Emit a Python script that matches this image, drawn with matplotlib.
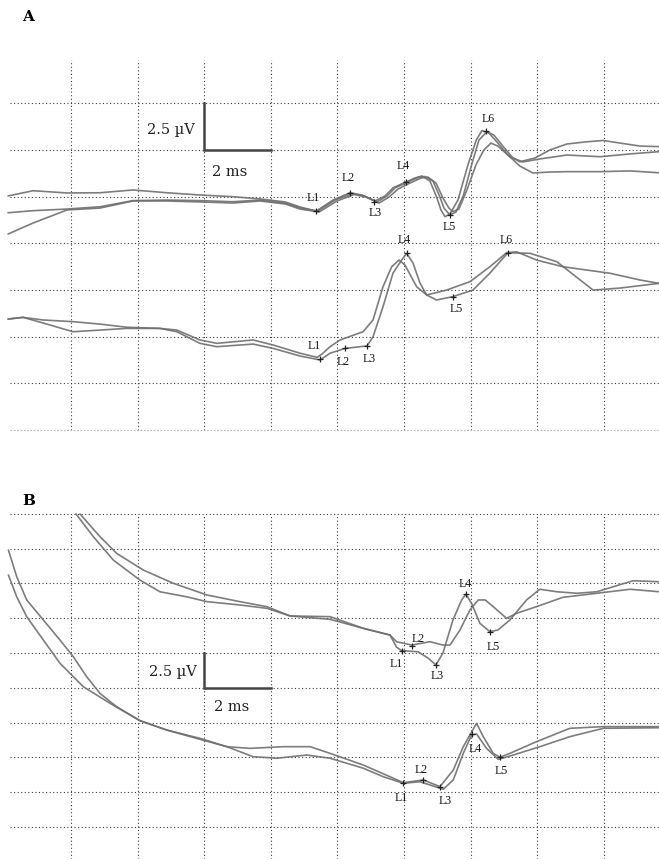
import matplotlib
matplotlib.use("Agg")
import matplotlib.pyplot as plt

# time in ms, amplitude in µV (one grid cell = 2 ms x 2.5 µV)
GRID_MS = [2, 4, 6, 8, 10, 12, 14, 16, 18]
A_GRID_UV = [2.5, 5.0, 7.5, 10.0, 12.5, 15.0, 17.5]
B_GRID_UV = [0.0, 2.5, 5.0, 7.5, 10.0, 12.5, 15.0, 17.5, 20.0, 22.5]

# ---- panel A, upper recordings (3 traces) ----
a_top_t1 = [0.11, 0.86, 1.88, 2.87, 3.86, 4.88, 5.87, 6.86, 7.68, 8.43, 8.88, 9.36, 9.87, 10.38,
            10.74, 11.13, 11.43, 11.67, 12.06, 12.33, 12.54, 12.78, 12.99, 13.11, 13.23, 13.38,
            13.62, 13.92, 14.17, 14.34, 14.55, 14.82, 15.12, 15.48, 15.93, 16.38, 16.89, 17.44,
            17.98, 18.49, 19.09, 19.66]
a_top_v1 = [12.53, 12.81, 12.69, 12.70, 12.85, 12.70, 12.58, 12.49, 12.37, 12.21, 11.94, 11.72,
            12.31, 12.70, 12.58, 12.26, 12.53, 12.96, 13.28, 13.49, 13.60, 13.33, 12.42, 11.78,
            11.42, 11.56, 12.31, 14.19, 15.52, 16.03, 15.90, 15.36, 14.72, 14.36, 14.56, 14.99,
            15.31, 15.42, 15.50, 15.36, 15.20, 15.17]
a_top_t2 = [0.11, 0.86, 1.88, 2.87, 3.86, 4.88, 5.87, 6.86, 7.68, 8.43, 8.88, 9.42, 9.93, 10.44,
            10.80, 11.19, 11.49, 11.73, 12.12, 12.42, 12.63, 12.87, 13.08, 13.20, 13.38, 13.56,
            13.78, 14.03, 14.25, 14.49, 14.70, 14.97, 15.27, 15.57, 16.08, 16.89, 17.89, 18.79,
            19.66]
a_top_v2 = [11.63, 11.74, 11.83, 11.95, 12.28, 12.31, 12.28, 12.22, 12.31, 12.15, 11.88, 11.72,
            12.31, 12.66, 12.53, 12.21, 12.53, 12.96, 13.28, 13.52, 13.57, 13.33, 12.47, 11.88,
            11.51, 11.67, 12.53, 14.19, 15.52, 15.97, 15.79, 15.20, 14.56, 14.35, 14.51, 14.72,
            14.63, 14.78, 14.90]
a_top_t3 = [0.11, 0.86, 1.88, 2.87, 3.86, 4.88, 5.87, 6.86, 7.68, 8.43, 8.88, 9.45, 9.99, 10.50,
            10.86, 11.25, 11.55, 11.82, 12.18, 12.51, 12.72, 12.96, 13.17, 13.35, 13.47, 13.65,
            13.89, 14.16, 14.40, 14.61, 14.82, 15.12, 15.48, 15.87, 16.38, 16.89, 17.89, 18.79,
            19.66]
a_top_v3 = [10.49, 11.08, 11.78, 11.88, 12.26, 12.26, 12.21, 12.15, 12.26, 12.10, 11.83, 11.67,
            12.26, 12.61, 12.47, 12.15, 12.47, 12.90, 13.22, 13.49, 13.54, 13.22, 12.42, 11.88,
            11.69, 11.83, 12.85, 14.19, 14.99, 15.36, 15.20, 14.72, 14.13, 13.76, 13.81, 13.83,
            13.83, 13.87, 13.77]
a_top_peak_names = ["L1", "L2", "L3", "L4", "L5", "L6"]
a_top_peak_t = [9.36, 10.38, 11.10, 12.06, 13.38, 14.46]
a_top_peak_v = [11.72, 12.69, 12.21, 13.28, 11.51, 16.01]

# ---- panel A, lower recordings (2 traces) ----
a_low_t1 = [0.11, 0.56, 1.16, 2.06, 2.87, 3.68, 4.67, 5.18, 5.87, 6.38, 7.47, 8.07, 8.88, 9.39,
            9.54, 9.78, 10.08, 10.77, 11.07, 11.37, 11.63, 11.85, 12.03, 12.38, 12.68, 13.28,
            13.98, 14.58, 15.08, 15.38, 15.98, 16.77, 18.19, 19.09, 19.66]
a_low_v1 = [5.94, 6.03, 5.89, 5.80, 5.67, 5.50, 5.44, 5.35, 4.82, 4.64, 4.82, 4.55, 4.11, 3.89,
            4.07, 4.46, 4.82, 5.26, 5.89, 7.67, 8.74, 9.10, 8.83, 7.67, 7.23, 7.49, 7.94, 8.74,
            9.49, 9.54, 9.10, 8.74, 8.39, 8.03, 7.85]
a_low_t2 = [0.11, 0.56, 1.16, 2.06, 2.87, 3.68, 4.67, 5.18, 5.87, 6.38, 7.47, 8.07, 8.88, 9.48,
            9.78, 10.23, 10.89, 11.07, 11.37, 11.67, 11.93, 12.08, 12.27, 12.48, 12.68, 12.98,
            13.47, 14.07, 14.58, 15.12, 15.78, 16.59, 17.14, 17.68, 18.49, 19.66]
a_low_v2 = [5.94, 6.03, 5.73, 5.26, 5.35, 5.44, 5.44, 5.26, 4.64, 4.46, 4.60, 4.37, 3.96, 3.75,
            4.11, 4.37, 4.50, 4.99, 6.60, 8.40, 9.10, 9.46, 8.94, 7.87, 7.23, 6.96, 7.14, 7.49,
            8.40, 9.49, 9.46, 9.01, 8.24, 7.49, 7.60, 7.85]
a_low_peak_names = ["L1", "L2", "L3", "L4", "L5", "L6"]
a_low_peak_t = [9.48, 10.23, 10.89, 12.08, 13.47, 15.12]
a_low_peak_v = [3.78, 4.37, 4.50, 9.46, 7.14, 9.49]

# ---- panel B, upper recordings (2 traces) ----
b_top_t1 = [2.15, 2.67, 3.27, 4.07, 4.67, 5.47, 6.08, 7.07, 7.88, 8.58, 9.78, 10.78, 11.58, 11.78,
            11.93, 12.42, 12.72, 12.96, 13.17, 13.47, 13.73, 13.86, 14.03, 14.28, 14.58, 14.82,
            15.18, 15.68, 16.08, 16.59, 17.19, 17.79, 18.28, 18.88, 19.66]
b_top_v1 = [22.49, 20.86, 19.18, 17.74, 16.90, 16.54, 16.19, 15.95, 15.71, 15.16, 14.92, 14.27,
            13.79, 12.91, 12.67, 12.59, 12.14, 11.64, 12.50, 14.87, 16.31, 16.72, 16.07, 14.63,
            14.03, 14.15, 14.87, 16.31, 17.08, 16.90, 16.79, 16.90, 17.26, 17.69, 17.62]
b_top_t2 = [2.27, 2.87, 3.37, 4.17, 5.07, 6.08, 7.07, 7.88, 8.58, 9.78, 10.78, 11.58, 11.78, 12.23,
            12.78, 13.17, 13.38, 13.68, 13.98, 14.23, 14.44, 14.68, 15.08, 15.38, 15.98, 16.77,
            17.79, 18.79, 19.66]
b_top_v2 = [22.49, 20.86, 19.66, 18.46, 17.51, 16.67, 16.19, 15.83, 15.16, 15.11, 14.27, 13.79,
            13.31, 13.07, 13.31, 13.07, 13.07, 14.15, 15.59, 16.31, 16.31, 15.83, 14.99, 15.35,
            15.83, 16.50, 16.79, 17.08, 16.90]
b_top_peak_names = ["L1", "L2", "L3", "L4", "L5"]
b_top_peak_t = [11.93, 12.24, 12.96, 13.86, 14.58]
b_top_peak_v = [12.67, 13.00, 11.64, 16.72, 14.03]

# ---- panel B, lower recordings (2 traces) ----
b_low_t1 = [0.12, 0.37, 0.67, 1.17, 1.67, 2.07, 2.47, 2.87, 3.37, 4.07, 4.87, 5.87, 6.68, 7.38,
            8.38, 9.18, 9.78, 10.78, 11.58, 11.98, 12.58, 13.08, 13.48, 13.78, 13.98, 14.18,
            14.38, 14.68, 14.88, 15.18, 15.98, 16.98, 17.99, 19.66]
b_low_v1 = [19.90, 17.98, 16.31, 14.87, 13.43, 12.23, 10.80, 9.60, 8.64, 7.64, 6.97, 6.37, 5.77,
            5.65, 5.77, 5.77, 5.29, 4.45, 3.61, 3.18, 3.38, 2.90, 4.09, 5.77, 6.61, 7.45, 6.49,
            5.29, 5.01, 5.29, 6.13, 7.09, 7.21, 7.21]
b_low_t2 = [0.12, 0.37, 0.67, 1.17, 1.67, 2.37, 3.17, 4.07, 4.87, 5.87, 6.68, 7.47, 8.18, 9.08,
            9.78, 10.78, 11.38, 11.98, 12.48, 13.18, 13.48, 13.78, 14.03, 14.18, 14.48, 14.83,
            15.28, 16.08, 16.98, 17.99, 19.66]
b_low_v2 = [18.10, 16.54, 15.11, 13.43, 11.76, 10.08, 8.89, 7.64, 6.97, 6.30, 5.77, 5.05, 4.94,
            5.17, 4.94, 4.22, 3.61, 3.14, 3.25, 2.71, 3.38, 5.29, 6.61, 6.68, 5.65, 4.86, 5.17,
            5.77, 6.49, 7.09, 7.13]
b_low_peak_names = ["L1", "L2", "L3", "L4", "L5"]
b_low_peak_t = [11.98, 12.58, 13.08, 14.04, 14.88]
b_low_peak_v = [3.18, 3.38, 2.90, 6.68, 5.01]

SCALE_MS = 2.0
SCALE_UV = 2.5

TRACE_COLOR = "#6f6f6f"
GRID_COLOR = "#3a3a3a"
BAR_COLOR = "#444444"
LABEL_FONT = "Liberation Serif"
SCALE_FONT = "DejaVu Serif"

# label offsets in pixels (dx, dy) from each peak marker
A_TOP_OFFSETS = [(-3, 13), (-2, 15), (1, -11), (-3, 16), (-1, -12), (2, 12)]
A_LOW_OFFSETS = [(-6, 13), (-2, -14), (2, -13), (-2, 13), (3, -12), (-2, 13)]
B_TOP_OFFSETS = [(-5, -13), (6, 7), (1, -11), (-1, 10), (3, -15)]
B_LOW_OFFSETS = [(-2, -15), (-2, 10), (5, -14), (3, -15), (1, -14)]


def _draw_grid(ax, uv_levels, x_start, v_lo, v_hi):
    ls = (0, (1, 2.2))
    ax.hlines(uv_levels, x_start, ax.get_xlim()[1], colors=GRID_COLOR, linewidth=0.8,
              linestyles=[ls])
    ax.vlines(GRID_MS, v_lo, v_hi, colors=GRID_COLOR, linewidth=0.8, linestyles=[ls])


def _draw_traces(ax, traces):
    for t, v in traces:
        ax.plot(t, v, color=TRACE_COLOR, linewidth=1.2, alpha=0.9,
                solid_joinstyle="round", solid_capstyle="round")


def _draw_peaks(ax, names, pt, pv, offsets):
    ax.plot(pt, pv, linestyle="none", marker="+", markersize=5, markeredgewidth=0.9,
            color="#222222")
    for name, t, v, (dx, dy) in zip(names, pt, pv, offsets):
        ax.annotate(name, (t, v), xytext=(dx, dy), textcoords="offset pixels",
                    ha="center", va="center", fontsize=8.5, family=LABEL_FONT, color="#111111")


def _draw_scale_bar(ax, t0, v0, uv_dx, uv_dy, ms_dx, ms_dy):
    ax.plot([t0, t0, t0 + SCALE_MS], [v0 + SCALE_UV, v0, v0], color=BAR_COLOR,
            linewidth=1.8, solid_joinstyle="miter")
    ax.annotate("2.5 µV", (t0, v0 + SCALE_UV / 2), xytext=(uv_dx, uv_dy),
                textcoords="offset pixels", ha="right", va="center", fontsize=10.5,
                family=SCALE_FONT, color="#222222")
    ax.annotate("2 ms", (t0, v0), xytext=(ms_dx, ms_dy), textcoords="offset pixels",
                ha="left", va="center", fontsize=10.5, family=SCALE_FONT, color="#222222")


W, H = 659, 859
fig = plt.figure(figsize=(W / 100, H / 100), dpi=100)
fig.patch.set_facecolor("white")

# panel A occupies pixel rows 40..440, panel B rows 490..859
ax_a = fig.add_axes([0, (H - 440) / H, 1, 400 / H])
ax_a.set_xlim(-0.132, 19.658)
ax_a.set_ylim(-0.535, 20.878)
ax_b = fig.add_axes([0, 0, 1, 369 / H])
ax_b.set_xlim(-0.132, 19.658)
ax_b.set_ylim(-2.299, 24.21)

for ax in (ax_a, ax_b):
    ax.axis("off")

# panel A
_draw_grid(ax_a, A_GRID_UV, 0.17, 0.0, 19.8)
ax_a.hlines([0.0], 0.17, 19.658, colors="#b5b5b5", linewidth=0.8, linestyles=[(0, (1.5, 1.5))])
_draw_traces(ax_a, [(a_top_t1, a_top_v1), (a_top_t2, a_top_v2), (a_top_t3, a_top_v3),
                    (a_low_t1, a_low_v1), (a_low_t2, a_low_v2)])
_draw_peaks(ax_a, a_top_peak_names, a_top_peak_t, a_top_peak_v, A_TOP_OFFSETS)
_draw_peaks(ax_a, a_low_peak_names, a_low_peak_t, a_low_peak_v, A_LOW_OFFSETS)
_draw_scale_bar(ax_a, 6.0, 15.0, -9, -4, 8, -22)

# panel B
_draw_grid(ax_b, B_GRID_UV, 0.17, -2.3, 22.5)
_draw_traces(ax_b, [(b_top_t1, b_top_v1), (b_top_t2, b_top_v2),
                    (b_low_t1, b_low_v1), (b_low_t2, b_low_v2)])
_draw_peaks(ax_b, b_top_peak_names, b_top_peak_t, b_top_peak_v, B_TOP_OFFSETS)
_draw_peaks(ax_b, b_low_peak_names, b_low_peak_t, b_low_peak_v, B_LOW_OFFSETS)
_draw_scale_bar(ax_b, 6.0, 10.0, -7, -2, 10, -19)

fig.text(22 / W, 1 - 17 / H, "A", ha="left", va="center", fontsize=11,
         fontweight="bold", family=SCALE_FONT)
fig.text(22 / W, 1 - 501 / H, "B", ha="left", va="center", fontsize=11,
         fontweight="bold", family=SCALE_FONT)

fig.savefig("out.png", dpi=100, facecolor="white")
plt.close(fig)
